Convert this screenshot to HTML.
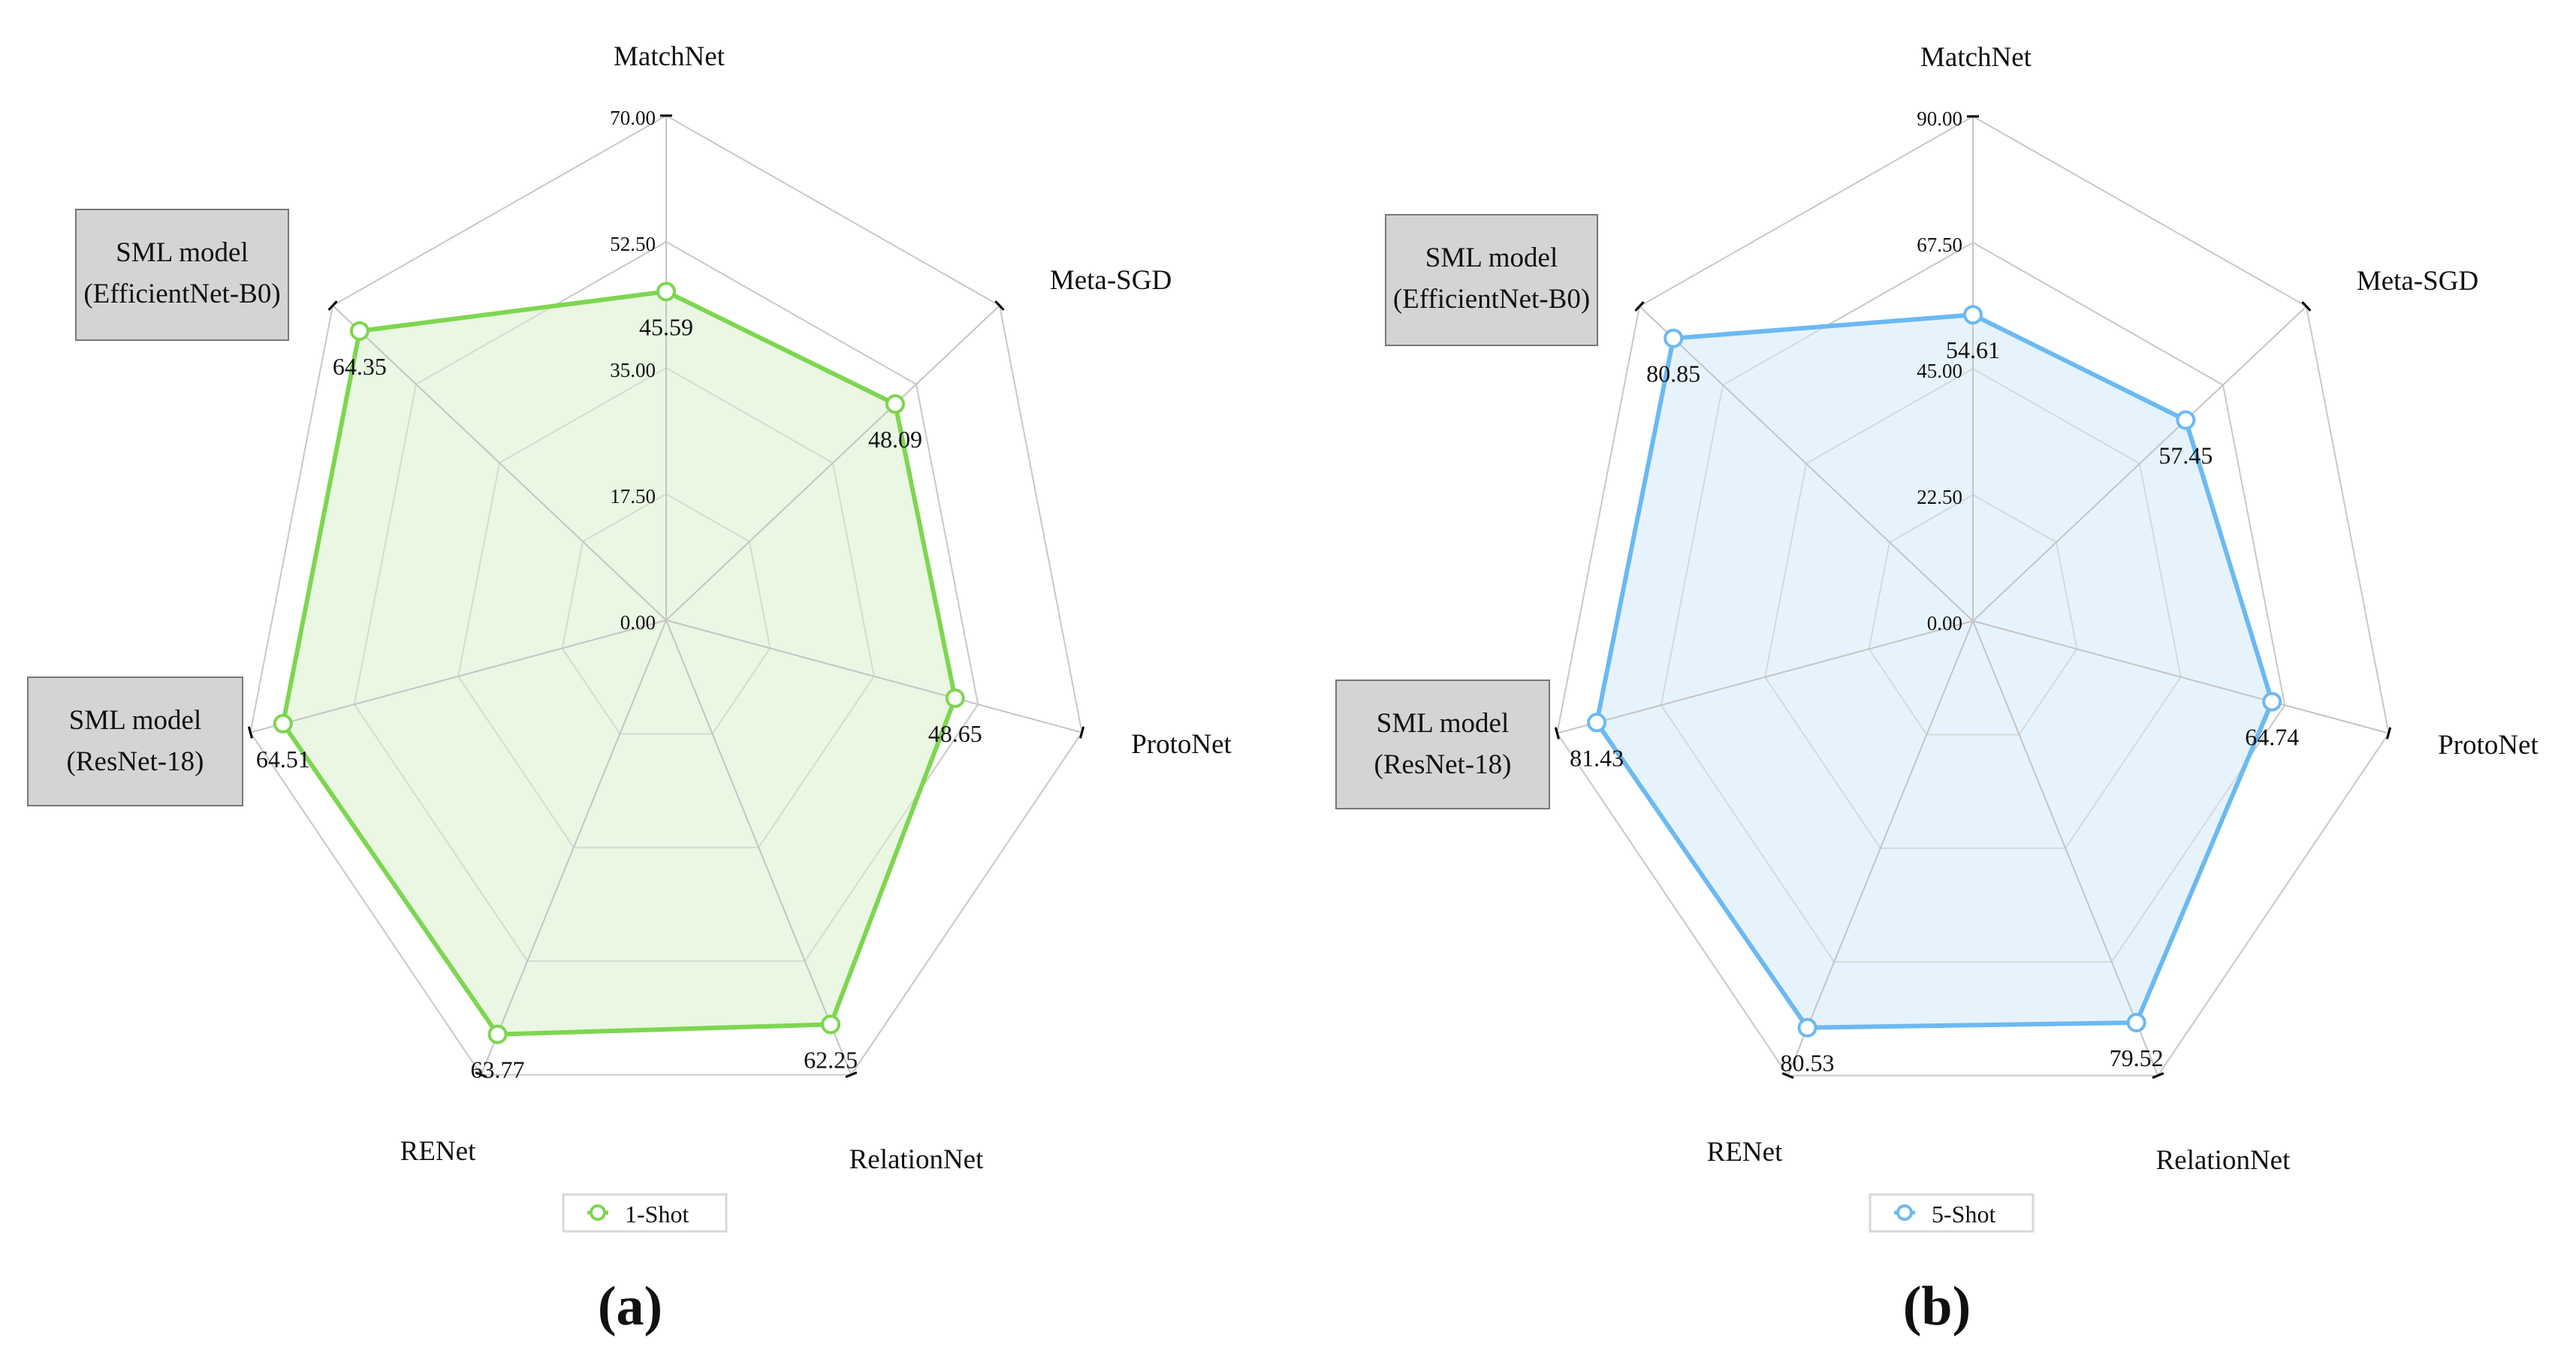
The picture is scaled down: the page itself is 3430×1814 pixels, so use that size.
<!DOCTYPE html>
<html><head><meta charset="utf-8"><style>
html,body{margin:0;padding:0;background:#fff;}
svg{display:block;font-family:"Liberation Serif",serif;}
</style></head><body>
<svg id="s" width="3430" height="1814" viewBox="0 0 3430 1814" xmlns="http://www.w3.org/2000/svg"></svg>
<script>
const categories = ["MatchNet","Meta-SGD","ProtoNet","RelationNet","RENet","SML model (ResNet-18)","SML model (EfficientNet-B0)"];
const oneShotValues = [45.59,48.09,48.65,62.25,63.77,64.51,64.35];
const fiveShotValues = [54.61,57.45,64.74,79.52,80.53,81.43,80.85];
const oneShotTicks = ["0.00","17.50","35.00","52.50","70.00"];
const fiveShotTicks = ["0.00","22.50","45.00","67.50","90.00"];
const oneShotMax = 70;
const fiveShotMax = 90;

const NS="http://www.w3.org/2000/svg";
const svg=document.getElementById('s');
function mk(tag,attrs,parent){const e=document.createElementNS(NS,tag);for(const k in attrs)e.setAttribute(k,attrs[k]);(parent||svg).appendChild(e);return e;}

function drawRadar(cfg){
  const g=mk('g',{});
  
  
  const cx=cfg.cx, cy=cfg.cy, R=672, n=categories.length, XS=0.845;
  const ang=i=>-Math.PI/2+i*2*Math.PI/n;
  const pt=(i,r)=>[cx+XS*r*Math.cos(ang(i)),cy+r*Math.sin(ang(i))];
  const rScale=v=>v/cfg.max*R;
  for(let k=1;k<cfg.ticks.length;k++){
    const r=R*k/(cfg.ticks.length-1);
    const p=categories.map((_,i)=>pt(i,r).join(',')).join(' ');
    const ring=mk('polygon',{points:p,fill:'none',stroke:'#cccccc','stroke-width':2},g);
    
    
  }
  const dp=cfg.values.map((v,i)=>pt(i,rScale(v)).join(',')).join(' ');
  const area=mk('polygon',{points:dp,fill:cfg.fill,stroke:'none'},g);
  
  
  for(let k=1;k<cfg.ticks.length;k++){
    const r=R*k/(cfg.ticks.length-1);
    const p=categories.map((_,i)=>pt(i,r).join(',')).join(' ');
    mk('polygon',{points:p,fill:'none',stroke:'#c4c9c4','stroke-width':2,'stroke-opacity':0.6},g);
  }
  categories.forEach((c,i)=>{
    const [x,y]=pt(i,R);
    const sp=mk('line',{x1:cx,y1:cy,x2:x,y2:y,stroke:'#c4c4c4','stroke-width':2},g);
    
    
    const dx=x-cx,dy=y-cy,L=Math.hypot(dx,dy),px=-dy/L,py=dx/L;
    mk('line',{x1:x-px*8,y1:y-py*8,x2:x+px*8,y2:y+py*8,stroke:'#000','stroke-width':3},g);
  });
  cfg.ticks.forEach((t,k)=>{
    const r=R*k/(cfg.ticks.length-1);
    const tl=mk('text',{x:cx-14,y:cy-r+12,'text-anchor':'end','font-size':27,fill:'#111'},g);
    tl.textContent=t;
    
    
  });
  const ln=mk('polygon',{points:dp,fill:'none',stroke:cfg.color,'stroke-width':6,'stroke-linejoin':'round'},g);
  
  
  cfg.values.forEach((v,i)=>{
    const [x,y]=pt(i,rScale(v));
    const m=mk('circle',{cx:x,cy:y,r:11,fill:'#fff',stroke:cfg.color,'stroke-width':4},g);
    
    
    const vl=mk('text',{x:x,y:y+58,'text-anchor':'middle','font-size':32,fill:'#111'},g);
    vl.textContent=v.toFixed(2);
    
    
  });
  const labelPos=cfg.labelPos;
  ["MatchNet","Meta-SGD","ProtoNet","RelationNet","RENet"].forEach((c,i)=>{
    const al=mk('text',{x:cx+labelPos[i][0],y:cy+labelPos[i][1],'text-anchor':'middle','font-size':37,fill:'#111'},g);
    al.textContent=c;
    
    
  });
  cfg.boxes.forEach((b,j)=>{
    const bg=mk('g',{},g);
    
    
    mk('rect',{x:cx+b[0],y:cy+b[1],width:b[2],height:b[3],fill:'#d4d4d4',stroke:'#777','stroke-width':2},bg);
    const t1=mk('text',{x:cx+b[0]+b[2]/2,y:cy+b[1]+69,'text-anchor':'middle','font-size':37,fill:'#111'},bg);
    t1.textContent='SML model';
    const t2=mk('text',{x:cx+b[0]+b[2]/2,y:cy+b[1]+124,'text-anchor':'middle','font-size':37,fill:'#111'},bg);
    t2.textContent=j===0?'(ResNet-18)':'(EfficientNet-B0)';
  });
  const lg=mk('g',{},g);
  
  
  mk('rect',{x:cx-137,y:1591,width:217,height:49,fill:'#fff',stroke:'#d8d8d8','stroke-width':3},lg);
  mk('line',{x1:cx-105,y1:1615,x2:cx-77,y2:1615,stroke:cfg.color,'stroke-width':5},lg);
  mk('circle',{cx:cx-91,cy:1615,r:9,fill:'#fff',stroke:cfg.color,'stroke-width':4},lg);
  const lt=mk('text',{x:cx-55,y:1628,'font-size':32,fill:'#111'},lg);
  lt.textContent=cfg.legend;
  const cap=mk('text',{x:cx-48,y:1764,'text-anchor':'middle','font-size':74,'font-weight':'bold',fill:'#111'},g);
  cap.textContent=cfg.caption;
  
  
}
const lp=[[4,-739],[592,-441],[686,177],[333,730],[-304,719]];
drawRadar({id:'one-shot',cx:887,cy:826,max:oneShotMax,values:oneShotValues,ticks:oneShotTicks,color:'#7dd650',fill:'#eaf7e3',legend:'1-Shot',caption:'(a)',labelPos:lp,
  boxes:[[-850,76,286,171],[-786,-547,283,174]]});
drawRadar({id:'five-shot',cx:2627,cy:827,max:fiveShotMax,values:fiveShotValues,ticks:fiveShotTicks,color:'#6cb9f2',fill:'#e7f3fc',legend:'5-Shot',caption:'(b)',labelPos:lp,
  boxes:[[-848,79,284,171],[-782,-541,282,174]]});
</script>
</body></html>
